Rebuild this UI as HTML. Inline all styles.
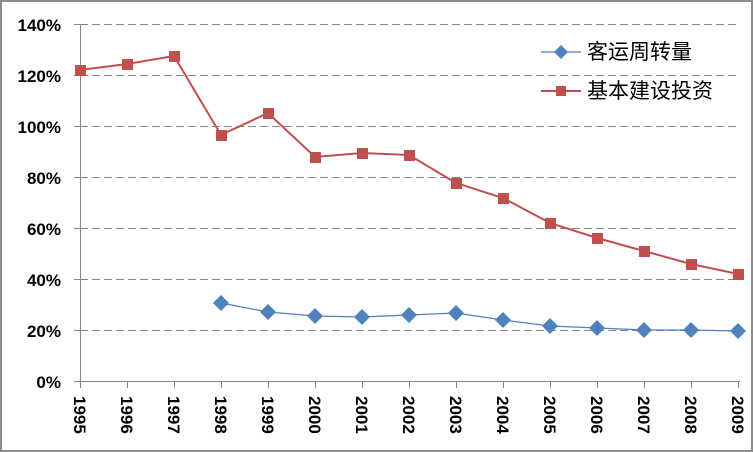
<!DOCTYPE html>
<html><head><meta charset="utf-8"><style>
html,body{margin:0;padding:0;background:#fff;}
svg{display:block;}
text{font-family:"Liberation Sans","Noto Sans CJK SC",sans-serif;}
</style></head><body>
<svg width="753" height="452" viewBox="0 0 753 452" xmlns="http://www.w3.org/2000/svg">
<rect x="1" y="1" width="751" height="450" fill="#fff" stroke="#8c8c8c" stroke-width="2"/>
<g stroke="#868686" stroke-width="1" stroke-dasharray="8,4">
<line x1="80" y1="24.5" x2="740" y2="24.5"/>
<line x1="80" y1="75.5" x2="740" y2="75.5"/>
<line x1="80" y1="126.5" x2="740" y2="126.5"/>
<line x1="80" y1="177.5" x2="740" y2="177.5"/>
<line x1="80" y1="228.5" x2="740" y2="228.5"/>
<line x1="80" y1="279.5" x2="740" y2="279.5"/>
<line x1="80" y1="330.5" x2="740" y2="330.5"/>
</g>
<g stroke="#868686" stroke-width="1">
<line x1="80.5" y1="24" x2="80.5" y2="381"/>
<line x1="80" y1="381.5" x2="740" y2="381.5"/>
<line x1="74" y1="24.5" x2="80" y2="24.5"/><line x1="74" y1="75.5" x2="80" y2="75.5"/>
<line x1="74" y1="126.5" x2="80" y2="126.5"/><line x1="74" y1="177.5" x2="80" y2="177.5"/>
<line x1="74" y1="228.5" x2="80" y2="228.5"/><line x1="74" y1="279.5" x2="80" y2="279.5"/>
<line x1="74" y1="330.5" x2="80" y2="330.5"/><line x1="74" y1="381.5" x2="80" y2="381.5"/>
<line x1="80.5" y1="381" x2="80.5" y2="388"/><line x1="127.5" y1="381" x2="127.5" y2="388"/>
<line x1="174.5" y1="381" x2="174.5" y2="388"/><line x1="221.5" y1="381" x2="221.5" y2="388"/>
<line x1="268.5" y1="381" x2="268.5" y2="388"/><line x1="315.5" y1="381" x2="315.5" y2="388"/>
<line x1="362.5" y1="381" x2="362.5" y2="388"/><line x1="409.5" y1="381" x2="409.5" y2="388"/>
<line x1="456.5" y1="381" x2="456.5" y2="388"/><line x1="503.5" y1="381" x2="503.5" y2="388"/>
<line x1="550.5" y1="381" x2="550.5" y2="388"/><line x1="597.5" y1="381" x2="597.5" y2="388"/>
<line x1="644.5" y1="381" x2="644.5" y2="388"/><line x1="691.5" y1="381" x2="691.5" y2="388"/>
<line x1="738.5" y1="381" x2="738.5" y2="388"/>
</g>
<g font-size="17" font-weight="bold" text-anchor="end" fill="#000">
<text x="61" y="31">140%</text><text x="61" y="82">120%</text><text x="61" y="133">100%</text>
<text x="61" y="184">80%</text><text x="61" y="235">60%</text><text x="61" y="286">40%</text>
<text x="61" y="337">20%</text><text x="61" y="388">0%</text>
</g>
<g font-size="17" font-weight="bold" fill="#000">
<text transform="translate(74,396) rotate(90)">1995</text>
<text transform="translate(121,396) rotate(90)">1996</text>
<text transform="translate(168,396) rotate(90)">1997</text>
<text transform="translate(215,396) rotate(90)">1998</text>
<text transform="translate(262,396) rotate(90)">1999</text>
<text transform="translate(309,396) rotate(90)">2000</text>
<text transform="translate(356,396) rotate(90)">2001</text>
<text transform="translate(403,396) rotate(90)">2002</text>
<text transform="translate(450,396) rotate(90)">2003</text>
<text transform="translate(497,396) rotate(90)">2004</text>
<text transform="translate(544,396) rotate(90)">2005</text>
<text transform="translate(591,396) rotate(90)">2006</text>
<text transform="translate(638,396) rotate(90)">2007</text>
<text transform="translate(685,396) rotate(90)">2008</text>
<text transform="translate(732,396) rotate(90)">2009</text>
</g>
<polyline fill="none" stroke="#c0504d" stroke-width="2" points="80,70 127,64 174,56 221,135 268,113 315,157 362,153 409,155 456,183 503,198 550,223 597,238 644,251 691,264 738,274"/>
<g fill="#c0504d">
<rect x="75" y="65" width="11" height="11"/><rect x="122" y="59" width="11" height="11"/><rect x="169" y="51" width="11" height="11"/>
<rect x="216" y="130" width="11" height="11"/><rect x="263" y="108" width="11" height="11"/><rect x="310" y="152" width="11" height="11"/>
<rect x="357" y="148" width="11" height="11"/><rect x="404" y="150" width="11" height="11"/><rect x="451" y="178" width="11" height="11"/>
<rect x="498" y="193" width="11" height="11"/><rect x="545" y="218" width="11" height="11"/><rect x="592" y="233" width="11" height="11"/>
<rect x="639" y="246" width="11" height="11"/><rect x="686" y="259" width="11" height="11"/><rect x="733" y="269" width="11" height="11"/>
</g>
<polyline fill="none" stroke="#4f81bd" stroke-width="1.3" points="221,303 268,312 315,316 362,317 409,315 456,313 503,320 550,326 597,328 644,330 691,330 738,331"/>
<g fill="#4f81bd">
<path d="M221,295l8,8l-8,8l-8,-8z"/><path d="M268,304l8,8l-8,8l-8,-8z"/><path d="M315,308l8,8l-8,8l-8,-8z"/>
<path d="M362,309l8,8l-8,8l-8,-8z"/><path d="M409,307l8,8l-8,8l-8,-8z"/><path d="M456,305l8,8l-8,8l-8,-8z"/>
<path d="M503,312l8,8l-8,8l-8,-8z"/><path d="M550,318l8,8l-8,8l-8,-8z"/><path d="M597,320l8,8l-8,8l-8,-8z"/>
<path d="M644,322l8,8l-8,8l-8,-8z"/><path d="M691,322l8,8l-8,8l-8,-8z"/><path d="M738,323l8,8l-8,8l-8,-8z"/>
</g>
<rect x="530" y="35" width="190" height="28" fill="#fff"/>
<rect x="530" y="80" width="190" height="28" fill="#fff"/>
<line x1="541" y1="52" x2="581" y2="52" stroke="#4f81bd" stroke-width="1.3"/>
<path d="M561,45l7,7l-7,7l-7,-7z" fill="#4f81bd"/>
<line x1="541" y1="91" x2="581" y2="91" stroke="#c0504d" stroke-width="2"/>
<rect x="556" y="86" width="10" height="10" fill="#c0504d"/>
<g font-size="21" fill="#000">
<text x="587" y="59">客运周转量</text>
<text x="587" y="98">基本建设投资</text>
</g>
</svg>
</body></html>
